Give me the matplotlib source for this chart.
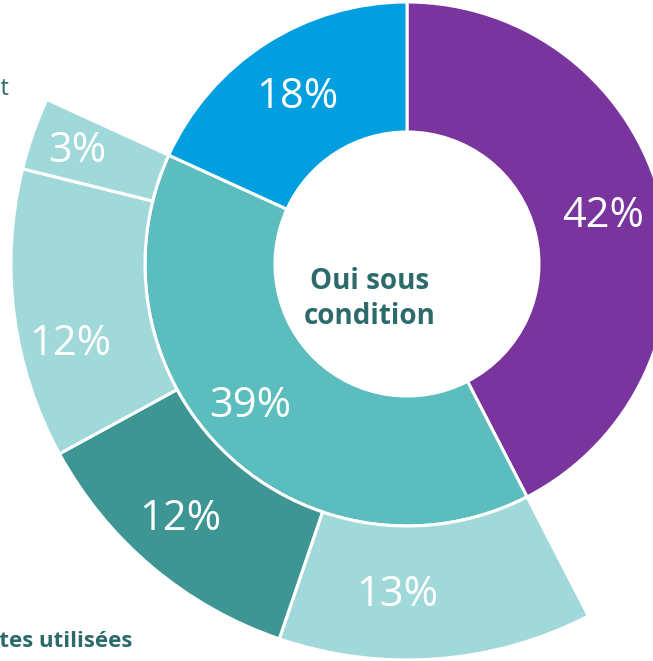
import matplotlib
matplotlib.use("Agg")
import matplotlib.pyplot as plt
from matplotlib.patches import Wedge
import numpy as np

# ---- data ----
inner_labels = ["Oui", "Oui sous condition", "Non"]
inner_values = [42, 39, 18]
outer_labels = ["Sous-partie A", "Sous-partie B", "Sous-partie C", "Sous-partie D"]
outer_values = [13, 12, 12, 3]

# ---- styles ----
inner_colors = ["#7A349E", "#5CBDBE", "#029FE0"]
outer_colors = ["#A1D9DA", "#3E9694", "#A1D9DA", "#A1D9DA"]
text_dark = "#2C6A6B"
plt.rcParams["font.family"] = ["Open Sans", "DejaVu Sans"]

W, H = 653, 661
fig = plt.figure(figsize=(W / 100, H / 100), dpi=100)
ax = fig.add_axes([0, 0, 1, 1])
ax.set_xlim(0, W)
ax.set_ylim(H, 0)
ax.axis("off")

cx, cy = 407, 264
r_hole, r_mid, r_out = 132, 262, 396
lw = 2.2

total = sum(inner_values)
bounds = np.concatenate([[0], np.cumsum(inner_values)]) / total * 360.0

def to_theta(a):
    # y axis is inverted, so increasing theta runs clockwise on screen; top = -90
    return a - 90.0

for i, v in enumerate(inner_values):
    a1, a2 = bounds[i], bounds[i + 1]
    ax.add_patch(Wedge((cx, cy), r_mid, to_theta(a1), to_theta(a2),
                       width=r_mid - r_hole, facecolor=inner_colors[i],
                       edgecolor="white", linewidth=lw))

t_start, t_end = bounds[1], bounds[2]
osum = sum(outer_values)
obounds = t_start + np.concatenate([[0], np.cumsum(outer_values)]) / osum * (t_end - t_start)
for i, v in enumerate(outer_values):
    a1, a2 = obounds[i], obounds[i + 1]
    ax.add_patch(Wedge((cx, cy), r_out, to_theta(a1), to_theta(a2),
                       width=r_out - r_mid, facecolor=outer_colors[i],
                       edgecolor="white", linewidth=lw))

# ---- labels (layout positions in pixels) ----
inner_label_pos = [(603, 216), (250, 406), (297, 97)]
outer_label_pos = [(397, 595), (180, 519), (70, 344), (77, 151)]
fs = 30
for (x, y), v in zip(inner_label_pos, inner_values):
    ax.text(x, y, f"{v}%", color="white", fontsize=fs, ha="center", va="center")
for (x, y), v in zip(outer_label_pos, outer_values):
    ax.text(x, y, f"{v}%", color="white", fontsize=fs, ha="center", va="center")

ax.text(370, 299, "Oui sous\ncondition", color=text_dark, fontsize=20,
        fontweight="bold", ha="center", va="center", linespacing=1.3)

# cut-off side annotations
ax.text(9, 95, "Oui, directement", color=text_dark, fontsize=17,
        ha="right", va="baseline")
ax.text(132, 647, "Composantes utilisées", color=text_dark,
        fontsize=16, fontweight="bold", ha="right", va="baseline")
ax.text(56, 677, "sous condition", color=text_dark,
        fontsize=16, fontweight="bold", ha="right", va="baseline")

fig.savefig("out.png", dpi=100)
